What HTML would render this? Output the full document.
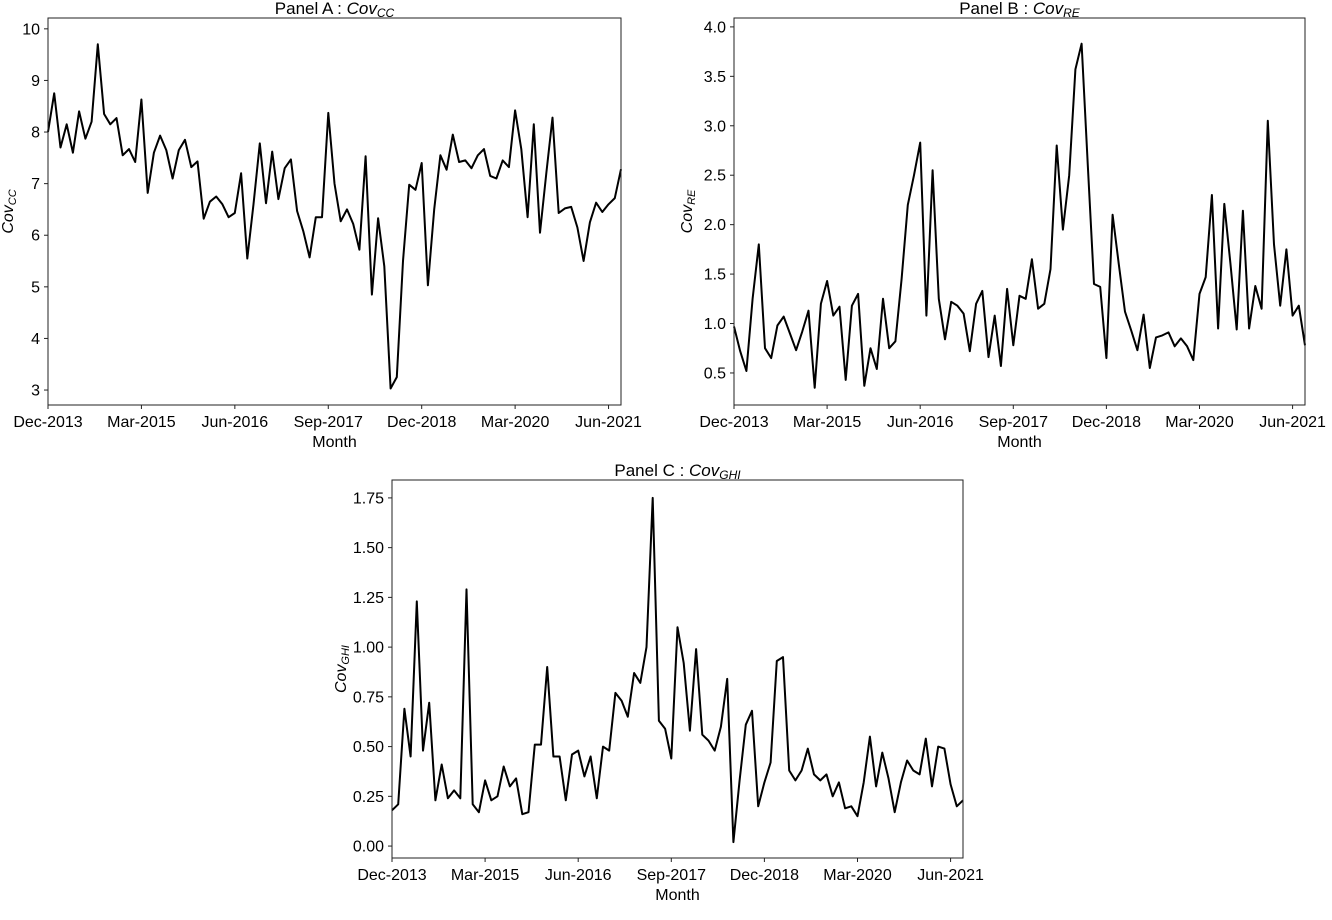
<!DOCTYPE html>
<html><head><meta charset="utf-8"><style>
body{margin:0;background:#fff;font-family:"Liberation Sans","DejaVu Sans",sans-serif}
svg text{font-family:"Liberation Sans","DejaVu Sans",sans-serif;fill:#000}
</style></head><body>
<svg id="chart" width="1332" height="915" xmlns="http://www.w3.org/2000/svg"></svg>
<script>
const tickMonths=[0,15,30,45,60,75,90];
const tickLabels=["Dec-2013","Mar-2015","Jun-2016","Sep-2017","Dec-2018","Mar-2020","Jun-2021"];
const covCC=[8.0,8.75,7.7,8.15,7.6,8.4,7.87,8.2,9.7,8.35,8.15,8.27,7.55,7.67,7.42,8.63,6.82,7.6,7.93,7.65,7.1,7.65,7.85,7.32,7.43,6.32,6.65,6.75,6.6,6.35,6.43,7.2,5.55,6.6,7.78,6.62,7.62,6.7,7.3,7.47,6.47,6.07,5.57,6.35,6.35,8.37,7.0,6.27,6.5,6.22,5.72,7.53,4.85,6.33,5.4,3.03,3.25,5.5,6.98,6.88,7.4,5.03,6.5,7.55,7.27,7.95,7.42,7.45,7.3,7.55,7.67,7.15,7.1,7.45,7.32,8.42,7.67,6.35,8.15,6.05,7.2,8.28,6.43,6.52,6.55,6.15,5.5,6.25,6.63,6.45,6.6,6.72,7.28];
const covRE=[0.97,0.72,0.52,1.25,1.8,0.75,0.65,0.98,1.07,0.9,0.73,0.92,1.13,0.35,1.2,1.43,1.08,1.17,0.43,1.18,1.3,0.37,0.75,0.54,1.25,0.75,0.82,1.45,2.2,2.5,2.83,1.08,2.55,1.25,0.84,1.22,1.18,1.1,0.72,1.2,1.33,0.66,1.08,0.57,1.35,0.78,1.28,1.25,1.65,1.15,1.2,1.55,2.8,1.95,2.5,3.57,3.83,2.6,1.4,1.37,0.65,2.1,1.6,1.12,0.93,0.73,1.09,0.55,0.86,0.88,0.91,0.77,0.85,0.77,0.63,1.3,1.47,2.3,0.95,2.21,1.6,0.94,2.14,0.95,1.38,1.15,3.05,1.8,1.18,1.75,1.08,1.18,0.78];
const covGHI=[0.18,0.21,0.69,0.45,1.23,0.48,0.72,0.23,0.41,0.24,0.28,0.24,1.29,0.21,0.17,0.33,0.23,0.25,0.4,0.3,0.34,0.16,0.17,0.51,0.51,0.9,0.45,0.45,0.23,0.46,0.48,0.35,0.45,0.24,0.5,0.48,0.77,0.73,0.65,0.87,0.82,1.0,1.75,0.63,0.59,0.44,1.1,0.92,0.58,0.99,0.56,0.53,0.48,0.6,0.84,0.02,0.33,0.61,0.68,0.2,0.32,0.42,0.93,0.95,0.38,0.33,0.38,0.49,0.36,0.33,0.36,0.25,0.32,0.19,0.2,0.15,0.32,0.55,0.3,0.47,0.34,0.17,0.32,0.43,0.38,0.36,0.54,0.3,0.5,0.49,0.31,0.2,0.23];
const yTicksA=[3,4,5,6,7,8,9,10];
const yTicksB=[0.5,1.0,1.5,2.0,2.5,3.0,3.5,4.0];
const yTicksC=[0,0.25,0.5,0.75,1.0,1.25,1.5,1.75];

const NS="http://www.w3.org/2000/svg";
const svg=document.getElementById('chart');
function mk(tag,attrs,parent){const e=document.createElementNS(NS,tag);for(const k in attrs)e.setAttribute(k,attrs[k]);(parent||svg).appendChild(e);return e;}

function panel(id,box,yDom,data,yTicks,yDec,title,sub,ylabX){
  const g=mk('g',{});
  
  
  const [L,T,R,B]=box;
  const xs=m=>L+(R-L)*m/92;
  const ys=v=>B-(B-T)*(v-yDom[0])/(yDom[1]-yDom[0]);
  const pts=data.map((v,i)=>xs(i).toFixed(1)+','+ys(v).toFixed(1)).join(' ');
  const line=mk('polyline',{points:pts,fill:'none',stroke:'#000','stroke-width':2,'stroke-linejoin':'round'},g);
  
  
  const fr=mk('rect',{x:L,y:T,width:R-L,height:B-T,fill:'none',stroke:'#222','stroke-width':1},g);
  
  
  tickMonths.forEach((m,i)=>{
    const x=xs(m);
    mk('line',{x1:x,x2:x,y1:B,y2:B+4,stroke:'#222'},g);
    const t=mk('text',{x:x,y:B+22,'text-anchor':'middle','font-size':16},g);
    t.textContent=tickLabels[i];
    
    
  });
  yTicks.forEach(v=>{
    const y=ys(v);
    mk('line',{x1:L-4,x2:L,y1:y,y2:y,stroke:'#222'},g);
    const t=mk('text',{x:L-8,y:y+5.5,'text-anchor':'end','font-size':16},g);
    t.textContent=v.toFixed(yDec);
    
    
  });
  const xt=mk('text',{x:(L+R)/2,y:B+42,'text-anchor':'middle','font-size':16},g);
  xt.textContent='Month';
  
  
  const ty=mk('text',{x:(L+R)/2,y:T-4,'text-anchor':'middle','font-size':17},g);
  ty.innerHTML='Panel '+title+' : <tspan font-style="italic">Cov</tspan><tspan font-style="italic" font-size="12" dy="3">'+sub+'</tspan>';
  
  
  const yl=mk('text',{transform:`translate(${ylabX},${(T+B)/2}) rotate(-90)`,'text-anchor':'middle','font-size':16},g);
  yl.innerHTML='<tspan font-style="italic">Cov</tspan><tspan font-style="italic" font-size="11" dy="3">'+sub+'</tspan>';
  
  
}
panel('panel-a',[48,18,621,405],[2.71,10.21],covCC,yTicksA,0,'A','CC',13);
panel('panel-b',[734,18,1305,405],[0.176,4.09],covRE,yTicksB,1,'B','RE',692);
panel('panel-c',[392,480,963,858],[-0.06,1.84],covGHI,yTicksC,2,'C','GHI',346);
</script>
</body></html>
